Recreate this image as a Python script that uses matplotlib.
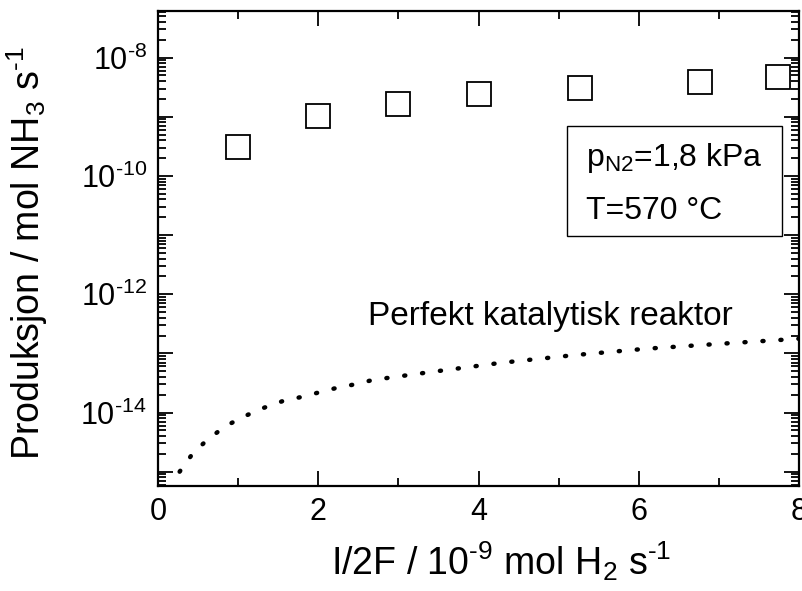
import matplotlib
matplotlib.use("Agg")
import matplotlib.pyplot as plt
from matplotlib.ticker import LogLocator, FuncFormatter, MultipleLocator, NullFormatter
from matplotlib.patches import Rectangle
import math

plt.rcParams['font.family'] = ['Liberation Sans', 'DejaVu Sans']
plt.rcParams['mathtext.fontset'] = 'custom'
plt.rcParams['mathtext.rm'] = 'Liberation Sans'
plt.rcParams['mathtext.it'] = 'Liberation Sans'
plt.rcParams['mathtext.default'] = 'regular'

# measured production (squares)
current_x = [1.0, 2.0, 3.0, 4.0, 5.27, 6.77, 7.74]
production_y = [3.1e-10, 1.03e-9, 1.65e-9, 2.43e-9, 3.1e-9, 3.93e-9, 4.67e-9]

# perfect catalytic reactor (dotted curve)
ideal_x = [0.27, 0.44, 0.65, 0.87, 1.10, 1.32, 1.55, 1.78, 2.01, 2.24, 2.47,
           2.68, 3.38, 4.28, 5.19, 6.10, 7.01, 7.92, 8.0]
ideal_y = [1.0e-15, 2.09e-15, 3.8e-15, 6.17e-15, 8.9e-15, 1.2e-14, 1.55e-14,
           1.82e-14, 2.19e-14, 2.63e-14, 3.02e-14, 3.55e-14, 4.79e-14, 6.92e-14,
           9.33e-14, 1.2e-13, 1.45e-13, 1.74e-13, 1.77e-13]

x_ticks = [0, 2, 4, 6, 8]


def log_label(val, pos):
    # only every other decade gets a label
    e = int(round(math.log10(val)))
    if e % 2 == 0:
        return r'10$^{\text{-}%d}$' % abs(e)
    return ''


def main():
    fig = plt.figure(figsize=(8.02, 5.91), dpi=100)
    ax = fig.add_axes([0.197, 0.1782, 0.7993, 0.8037])

    ax.plot(current_x, production_y, linestyle='none', marker='s', ms=17,
            mfc='white', mec='black', mew=1.3, zorder=3)
    ax.plot(ideal_x, ideal_y, color='black', lw=3.2,
            linestyle=(0, (0.25, 3.8)), dash_capstyle='round')

    ax.set_yscale('log')
    ax.set_xlim(0, 8)
    ax.set_ylim(5.8e-16, 6.2e-8)

    ax.set_xticks(x_ticks)
    ax.xaxis.set_minor_locator(MultipleLocator(1))
    ax.yaxis.set_major_locator(LogLocator(base=10, numticks=20))
    ax.yaxis.set_minor_locator(LogLocator(base=10, subs=range(2, 10), numticks=20))
    ax.yaxis.set_major_formatter(FuncFormatter(log_label))
    ax.yaxis.set_minor_formatter(NullFormatter())

    ax.tick_params(which='both', direction='in', top=True, right=True,
                   labelsize=22, width=1.3, pad=8)
    ax.tick_params(which='major', length=11)
    ax.tick_params(which='minor', length=5.5)
    for s in ax.spines.values():
        s.set_linewidth(1.6)

    ax.set_xlabel(r'I/2F / 10$^{\text{-}9}$ mol H$_2$ s$^{\text{-}1}$', fontsize=27)
    ax.set_ylabel(r'Produksjon / mol NH$_3$ s$^{\text{-}1}$', fontsize=27)
    ax.xaxis.set_label_coords(0.535, -0.113)
    ax.yaxis.set_label_coords(-0.168, 0.49)

    ax.text(0.3276, 0.3383, 'Perfekt katalytisk reaktor', transform=ax.transAxes,
            fontsize=24, va='baseline', ha='left')

    ax.add_patch(Rectangle((0.638, 0.5257), 0.3355, 0.2316, transform=ax.transAxes,
                           fill=False, edgecolor='black', lw=1.0))
    ax.text(0.668, 0.673, r'p$_{N2}$=1,8 kPa', transform=ax.transAxes,
            fontsize=23, va='baseline', ha='left')
    ax.text(0.668, 0.561, 'T=570 °C', transform=ax.transAxes,
            fontsize=23, va='baseline', ha='left')

    fig.savefig('out.png', dpi=100)


if __name__ == "__main__":
    main()
